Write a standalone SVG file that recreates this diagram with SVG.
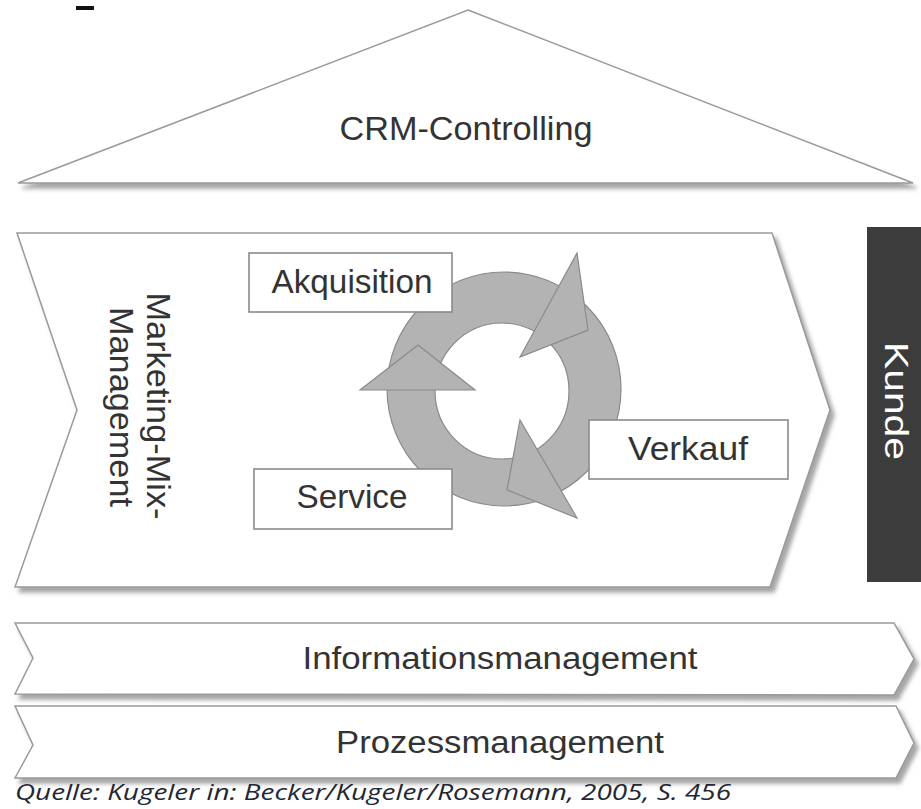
<svg xmlns="http://www.w3.org/2000/svg" width="921" height="809" viewBox="0 0 921 809">
  <style>
    .lbl { font-family: "Liberation Sans", Arial, sans-serif; fill: #333333; }
    .shape { fill: #ffffff; stroke: #9a9a9a; stroke-width: 1.5; stroke-linejoin: miter; }
    .box { fill: #ffffff; stroke: #8a8a8a; stroke-width: 1.6; }
    .ring { fill: #b3b3b3; stroke: #8a8a8a; stroke-width: 1.2; }
  </style>
  <defs>
    <filter id="sh" x="-5%" y="-5%" width="115%" height="120%">
      <feDropShadow dx="4" dy="5" stdDeviation="2" flood-color="#8f8f8f" flood-opacity="0.8"/>
    </filter>
  </defs>
  <rect width="921" height="809" fill="#ffffff"/>
  <rect x="76" y="6" width="18" height="4" fill="#111111"/>

  <g id="crm-controlling">
    <polygon class="shape" points="468,10 913,183 18,183" filter="url(#sh)"/>
    <text class="lbl" x="466" y="140" font-size="34" text-anchor="middle" textLength="253" lengthAdjust="spacingAndGlyphs">CRM-Controlling</text>
  </g>

  <g id="marketing-mix-management">
    <polygon class="shape" points="17,233 772,233 830,410 770,587 15,587 77,410" filter="url(#sh)"/>
    <text class="lbl" font-size="34" text-anchor="middle" transform="translate(147,406) rotate(90)" textLength="227" lengthAdjust="spacingAndGlyphs">Marketing-Mix-</text>
    <text class="lbl" font-size="34" text-anchor="middle" transform="translate(110,407) rotate(90)" textLength="200" lengthAdjust="spacingAndGlyphs">Management</text>
  </g>

  <g id="zyklus">
    <path class="ring" fill-rule="evenodd" d="M387,389 A117,117 0 1,0 621,389 A117,117 0 1,0 387,389 Z M435,391 A67,68 0 1,1 569,391 A67,68 0 1,1 435,391 Z"/>
    <polygon class="ring" points="360,390 418,345 475,390"/>
    <polygon class="ring" points="577,253 588,330 520,357"/>
    <polygon class="ring" points="520,420 577,518 507,490"/>
  </g>

  <g id="akquisition">
    <rect class="box" x="249" y="253" width="203" height="59"/>
    <text class="lbl" x="352" y="293" font-size="33" text-anchor="middle" textLength="161" lengthAdjust="spacingAndGlyphs">Akquisition</text>
  </g>

  <g id="service">
    <rect class="box" x="254" y="469" width="198" height="60"/>
    <text class="lbl" x="352" y="508" font-size="33" text-anchor="middle" textLength="111" lengthAdjust="spacingAndGlyphs">Service</text>
  </g>

  <g id="verkauf">
    <rect class="box" x="589" y="420" width="199" height="59"/>
    <text class="lbl" x="688" y="460" font-size="34" text-anchor="middle" textLength="120" lengthAdjust="spacingAndGlyphs">Verkauf</text>
  </g>

  <g id="kunde">
    <rect x="867" y="227" width="54" height="355" fill="#3c3c3c"/>
    <text font-family="Liberation Sans, Arial, sans-serif" fill="#ffffff" font-size="34" text-anchor="middle" transform="translate(885,401) rotate(90)" textLength="118" lengthAdjust="spacingAndGlyphs">Kunde</text>
  </g>

  <g id="informationsmanagement">
    <polygon class="shape" points="15,623 894,623 914,659 894,695 15,694 33,658" filter="url(#sh)"/>
    <text class="lbl" x="500" y="669" font-size="31" text-anchor="middle" textLength="395" lengthAdjust="spacingAndGlyphs">Informationsmanagement</text>
  </g>

  <g id="prozessmanagement">
    <polygon class="shape" points="15,706 896,706 914,743 896,778 15,778 33,745" filter="url(#sh)"/>
    <text class="lbl" x="500" y="753" font-size="31" text-anchor="middle" textLength="328" lengthAdjust="spacingAndGlyphs">Prozessmanagement</text>
  </g>

  <g id="connectors"></g>

  <text x="15" y="800" font-family="Open Sans, DejaVu Sans, sans-serif" font-style="italic" font-size="22" fill="#222733" textLength="716" lengthAdjust="spacingAndGlyphs">Quelle: Kugeler in: Becker/Kugeler/Rosemann, 2005, S. 456</text>
</svg>
